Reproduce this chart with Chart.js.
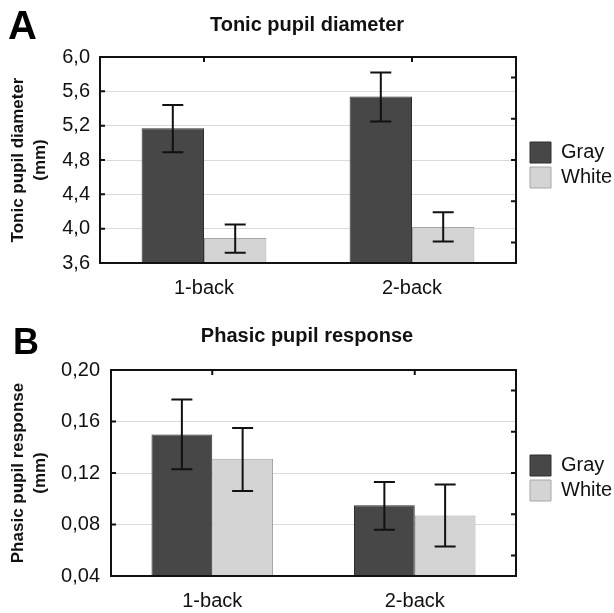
<!DOCTYPE html>
<html>
<head>
<meta charset="utf-8">
<script src="https://cdn.jsdelivr.net/npm/chart.js@4/dist/chart.umd.min.js"></script>
<style>
  body { margin: 0; background: #fff; }
  canvas { display: block; }
</style>
</head>
<body>
<canvas id="chartA" width="614" height="300"></canvas>
<canvas id="chartB" width="614" height="313"></canvas>
<script>
// values (mean, lower and upper end of error bar)
var categories = ['1-back', '2-back'];

var tonicGray = [5.17, 5.54];
var tonicGrayLow = [4.89, 5.25];
var tonicGrayHigh = [5.44, 5.82];
var tonicWhite = [3.89, 4.02];
var tonicWhiteLow = [3.72, 3.85];
var tonicWhiteHigh = [4.05, 4.19];

var phasicGray = [0.150, 0.095];
var phasicGrayLow = [0.123, 0.076];
var phasicGrayHigh = [0.177, 0.113];
var phasicWhite = [0.131, 0.087];
var phasicWhiteLow = [0.106, 0.063];
var phasicWhiteHigh = [0.155, 0.111];

var tonicTicks = [3.6, 4.0, 4.4, 4.8, 5.2, 5.6, 6.0];
var tonicTickLabels = ['3,6', '4,0', '4,4', '4,8', '5,2', '5,6', '6,0'];
var tonicRightTicks = [3.84, 4.32, 4.80, 5.28, 5.76];

var phasicTicks = [0.04, 0.08, 0.12, 0.16, 0.20];
var phasicTickLabels = ['0,04', '0,08', '0,12', '0,16', '0,20'];
var phasicRightTicks = [0.056, 0.088, 0.12, 0.152, 0.184];

var FONT = "'Liberation Sans', Arial, sans-serif";

// error bars, plot frame, inward tick marks and panel letter
var frame = {
  id: 'frame',
  afterDatasetsDraw: function(chart) {
    var ctx = chart.ctx;
    var y = chart.scales.y;
    ctx.save();
    ctx.strokeStyle = '#111';
    ctx.lineWidth = 2;
    chart.data.datasets.forEach(function(ds, i) {
      chart.getDatasetMeta(i).data.forEach(function(bar, j) {
        var top = y.getPixelForValue(ds.errHigh[j]);
        var bot = y.getPixelForValue(ds.errLow[j]);
        ctx.beginPath();
        ctx.moveTo(bar.x, top); ctx.lineTo(bar.x, bot);
        ctx.moveTo(bar.x - 10.5, top); ctx.lineTo(bar.x + 10.5, top);
        ctx.moveTo(bar.x - 10.5, bot); ctx.lineTo(bar.x + 10.5, bot);
        ctx.stroke();
      });
    });
    ctx.restore();
  },
  afterDraw: function(chart, args, opts) {
    var ctx = chart.ctx;
    var a = chart.chartArea;
    var y = chart.scales.y, y2 = chart.scales.y2, x = chart.scales.x;
    ctx.save();
    ctx.strokeStyle = '#111';
    ctx.lineWidth = 2;
    ctx.strokeRect(a.left, a.top, a.right - a.left, a.bottom - a.top);
    ctx.beginPath();
    y.ticks.forEach(function(t) {
      var py = y.getPixelForValue(t.value);
      ctx.moveTo(a.left, py); ctx.lineTo(a.left + 5, py);
    });
    y2.ticks.forEach(function(t) {
      var py = y2.getPixelForValue(t.value);
      ctx.moveTo(a.right, py); ctx.lineTo(a.right - 5, py);
    });
    categories.forEach(function(c, i) {
      var px = x.getPixelForValue(i);
      ctx.moveTo(px, a.top); ctx.lineTo(px, a.top + 5);
    });
    ctx.stroke();
    ctx.fillStyle = '#000';
    ctx.font = 'bold ' + opts.size + 'px ' + FONT;
    ctx.textBaseline = 'alphabetic';
    ctx.fillText(opts.letter, opts.x, opts.y);
    ctx.restore();
  }
};

function makeChart(id, p) {
  var ctx = document.getElementById(id).getContext('2d');
  return new Chart(ctx, {
    type: 'bar',
    data: {
      labels: categories,
      datasets: [{
        label: 'Gray',
        data: p.gray,
        errLow: p.grayLow,
        errHigh: p.grayHigh,
        backgroundColor: '#474747',
        borderColor: '#2e2e2e',
        borderWidth: 1
      }, {
        label: 'White',
        data: p.white,
        errLow: p.whiteLow,
        errHigh: p.whiteHigh,
        backgroundColor: '#d4d4d4',
        borderColor: '#a6a6a6',
        borderWidth: 1
      }]
    },
    options: {
      responsive: false,
      devicePixelRatio: 1,
      animation: false,
      barPercentage: 1.0,
      categoryPercentage: 0.6,
      layout: { padding: { left: 0, right: 0, top: 0, bottom: 1 } },
      scales: {
        x: {
          afterFit: function(s) { s.height = 36; },
          grid: { display: false, drawTicks: false },
          border: { display: false },
          ticks: { color: '#111', padding: 13, font: { family: FONT, size: 20 } }
        },
        y: {
          min: p.ticks[0],
          max: p.ticks[p.ticks.length - 1],
          afterBuildTicks: function(s) {
            s.ticks = p.ticks.map(function(v) { return { value: v }; });
          },
          afterFit: function(s) { s.width = p.axisWidth; },
          grid: { color: '#dadada', lineWidth: 1, drawTicks: false },
          border: { display: false },
          ticks: {
            color: '#111',
            padding: p.tickPad,
            font: { family: FONT, size: 20 },
            callback: function(v, i) { return p.tickLabels[i]; }
          },
          title: {
            display: true,
            text: p.yTitle,
            color: '#111',
            font: { family: FONT, size: 17, weight: 'bold', lineHeight: 22 / 17 },
            padding: { top: 7.5, bottom: 8 }
          }
        },
        y2: {
          position: 'right',
          min: p.ticks[0],
          max: p.ticks[p.ticks.length - 1],
          afterBuildTicks: function(s) {
            s.ticks = p.rightTicks.map(function(v) { return { value: v }; });
          },
          afterFit: function(s) { s.width = 10; },
          grid: { drawOnChartArea: false, drawTicks: false },
          border: { display: false },
          ticks: { display: false }
        }
      },
      plugins: {
        title: {
          display: true,
          text: p.title,
          color: '#111',
          font: { family: FONT, size: 20, weight: 'bold', lineHeight: 1.2 },
          padding: { top: p.headTop, bottom: p.headBottom }
        },
        legend: {
          position: 'right',
          align: 'center',
          fullSize: false,
          maxWidth: 88,
          title: { display: true, text: ' ', padding: 0, font: { size: 10, lineHeight: 1 } },
          labels: {
            boxWidth: 21,
            boxHeight: 21,
            padding: 4,
            color: '#111',
            font: { family: FONT, size: 20 }
          }
        },
        tooltip: { enabled: false },
        frame: p.frame
      }
    },
    plugins: [frame]
  });
}

makeChart('chartA', {
  gray: tonicGray, grayLow: tonicGrayLow, grayHigh: tonicGrayHigh,
  white: tonicWhite, whiteLow: tonicWhiteLow, whiteHigh: tonicWhiteHigh,
  ticks: tonicTicks, tickLabels: tonicTickLabels, rightTicks: tonicRightTicks,
  tickPad: 10, axisWidth: 100,
  yTitle: ['Tonic pupil diameter', '(mm)'],
  title: 'Tonic pupil diameter',
  headTop: 13, headBottom: 20,
  frame: { letter: 'A', x: 8, y: 38.5, size: 40 }
});

makeChart('chartB', {
  gray: phasicGray, grayLow: phasicGrayLow, grayHigh: phasicGrayHigh,
  white: phasicWhite, whiteLow: phasicWhiteLow, whiteHigh: phasicWhiteHigh,
  ticks: phasicTicks, tickLabels: phasicTickLabels, rightTicks: phasicRightTicks,
  tickPad: 11, axisWidth: 111,
  yTitle: ['Phasic pupil response', '(mm)'],
  title: 'Phasic pupil response',
  headTop: 24.7, headBottom: 21.3,
  frame: { letter: 'B', x: 13, y: 53.5, size: 36 }
});
</script>
</body>
</html>
